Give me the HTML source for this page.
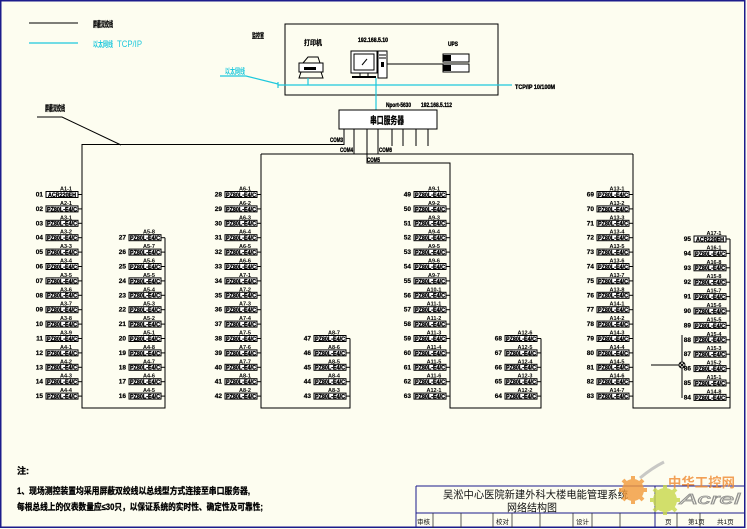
<!DOCTYPE html>
<html><head><meta charset="utf-8">
<style>
html,body{margin:0;padding:0;background:#fdfdf0;}
svg{display:block;}
.t{font-family:"Liberation Sans","Noto Sans CJK SC",sans-serif;}
.b{fill:#fff;stroke:#000;stroke-width:1;}
.m{font:bold 6.5px "Liberation Sans",sans-serif;fill:#000;stroke:#000;stroke-width:0.35;}
.n{font:bold 6.5px "Liberation Sans",sans-serif;text-anchor:end;fill:#000;stroke:#000;stroke-width:0.2;}
.l{font:bold 5.5px "Liberation Sans",sans-serif;text-anchor:middle;fill:#000;}
.k{stroke:#000;fill:none;stroke-width:1;}
.c{stroke:#1ec8dc;fill:none;stroke-width:1.2;}
.cn{font-family:"Liberation Sans","Noto Sans CJK SC",sans-serif;font-weight:bold;fill:#000;}
</style></head>
<body>
<svg width="747" height="529" viewBox="0 0 747 529" xmlns="http://www.w3.org/2000/svg">
<defs>
<g id="st"><path class="k" d="M32 0h4"/></g>
</defs>
<rect x="0" y="0" width="747" height="529" fill="#fdfdf0"/>
<rect x="0.75" y="0.75" width="744" height="526.5" fill="none" stroke="#1c1c8c" stroke-width="1.5"/>

<!-- Legend -->
<path class="k" d="M29 23H78"/>
<text class="cn" x="93" y="27" font-size="8" stroke="#000" stroke-width="0.3" textLength="20" lengthAdjust="spacingAndGlyphs">屏蔽双绞线</text>
<path class="c" d="M29 43H78"/>
<text class="t" x="93" y="47" font-size="8" fill="#1ec8dc" font-weight="bold" textLength="20" lengthAdjust="spacingAndGlyphs">以太网线</text>
<text class="t" x="117" y="47" font-size="9" fill="#1ec8dc" textLength="25" lengthAdjust="spacingAndGlyphs">TCP/IP</text>

<!-- 屏蔽双绞线 label -->
<text class="cn" x="45" y="111" font-size="8" stroke="#000" stroke-width="0.3" textLength="20" lengthAdjust="spacingAndGlyphs">屏蔽双绞线</text>
<path class="k" d="M37 117H62L121 145"/>

<!-- Ethernet label -->
<text class="t" x="225" y="74" font-size="8" fill="#1ec8dc" font-weight="bold" textLength="20" lengthAdjust="spacingAndGlyphs">以太网线</text>
<path class="c" d="M220 76H246L278 84"/>

<!-- Control room -->
<text class="cn" x="252" y="38" font-size="7" stroke="#000" stroke-width="0.25" textLength="12" lengthAdjust="spacingAndGlyphs">监控室</text>
<rect x="285" y="24" width="213" height="71" fill="none" stroke="#000" stroke-width="1"/>
<text class="cn" x="304" y="45" font-size="7" stroke="#000" stroke-width="0.25" textLength="18" lengthAdjust="spacingAndGlyphs">打印机</text>
<text class="m" x="358" y="42" textLength="30" lengthAdjust="spacingAndGlyphs">192.168.5.10</text>
<text class="m" x="448" y="46" textLength="10" lengthAdjust="spacingAndGlyphs">UPS</text>

<!-- printer -->
<path class="k" d="M303 63L308 57H318L320 63"/>
<rect x="299" y="63" width="24" height="9" fill="#fff" stroke="#000"/>
<path class="k" d="M301 72L299 78H323L321 72"/>
<rect x="304" y="67" width="12" height="3" fill="#000"/>
<!-- computer -->
<rect x="351" y="51" width="26" height="22" fill="#fff" stroke="#000"/>
<rect x="354" y="54" width="20" height="16" fill="#fff" stroke="#000"/>
<path class="k" d="M362 65L367 59"/>
<path class="k" d="M360 73V76M368 73V76"/>
<rect x="352" y="76" width="24" height="2" fill="#000"/>
<rect x="378" y="51" width="9" height="27" fill="#fff" stroke="#000"/>
<path class="k" d="M379 55H386M379 58H386"/>
<rect x="381" y="62" width="3" height="5" fill="#000"/>
<path class="k" d="M387 64H443"/>
<!-- UPS -->
<rect x="443" y="54" width="26" height="8" fill="#fff" stroke="#000"/>
<rect x="443" y="64" width="26" height="8" fill="#fff" stroke="#000"/>
<rect x="443" y="55" width="8" height="6" fill="#000"/>
<rect x="443" y="65" width="8" height="6" fill="#000"/>

<!-- cyan network -->
<path class="c" d="M278 85H512M308 78V85M376 78V110M278 82V88"/>
<text class="m" x="515" y="89" textLength="40" lengthAdjust="spacingAndGlyphs">TCP/IP 10/100M</text>

<!-- serial server -->
<text class="m" x="386" y="107" textLength="25" lengthAdjust="spacingAndGlyphs">Nport-5630</text>
<text class="m" x="421" y="107" textLength="31" lengthAdjust="spacingAndGlyphs">192.168.5.112</text>
<rect x="339" y="110" width="98" height="19" fill="#fff" stroke="#000"/>
<text class="cn" x="370" y="124" font-size="10" stroke="#000" stroke-width="0.3" textLength="34" lengthAdjust="spacingAndGlyphs">串口服务器</text>

<!-- trunk lines -->
<path class="k" d="M344 129V144.5H82V408H165V237.7"/>
<path class="k" d="M261 154H633M354 129V154M378 129V154"/>
<path class="k" d="M261 154V408H350V338.5"/>
<path class="k" d="M367 129V163H450V408H541V338.5"/>
<path class="k" d="M633 154V408H730V239"/>
<path class="k" d="M392 129V146M403 129V146M416 129V146M428 129V146"/>
<text class="m" x="330" y="142" textLength="13" lengthAdjust="spacingAndGlyphs">COM3</text>
<text class="m" x="340" y="152" textLength="13" lengthAdjust="spacingAndGlyphs">COM4</text>
<text class="m" x="379" y="152" textLength="13" lengthAdjust="spacingAndGlyphs">COM6</text>
<text class="m" x="367" y="162" textLength="13" lengthAdjust="spacingAndGlyphs">COM5</text>

<!-- Column 1 -->
<g transform="translate(46,194.5)"><text class="n" x="-3" y="2">01</text><text class="l" x="20" y="-4">A1-1</text><rect class="b" y="-3" width="32" height="6"/><text class="m" x="2" y="2.4" textLength="28" lengthAdjust="spacingAndGlyphs">ACR220EH</text><use href="#st"/></g>
<g transform="translate(46,208.9)"><text class="n" x="-3" y="2">02</text><text class="l" x="20" y="-4">A2-1</text><rect class="b" y="-3" width="32" height="6"/><text class="m" x="1" y="2.4" textLength="30" lengthAdjust="spacingAndGlyphs">PZ80L-E4/C</text><use href="#st"/></g>
<g transform="translate(46,223.3)"><text class="n" x="-3" y="2">03</text><text class="l" x="20" y="-4">A3-1</text><rect class="b" y="-3" width="32" height="6"/><text class="m" x="1" y="2.4" textLength="30" lengthAdjust="spacingAndGlyphs">PZ80L-E4/C</text><use href="#st"/></g>
<g transform="translate(46,237.7)"><text class="n" x="-3" y="2">04</text><text class="l" x="20" y="-4">A3-2</text><rect class="b" y="-3" width="32" height="6"/><text class="m" x="1" y="2.4" textLength="30" lengthAdjust="spacingAndGlyphs">PZ80L-E4/C</text><use href="#st"/></g>
<g transform="translate(46,252.1)"><text class="n" x="-3" y="2">05</text><text class="l" x="20" y="-4">A3-3</text><rect class="b" y="-3" width="32" height="6"/><text class="m" x="1" y="2.4" textLength="30" lengthAdjust="spacingAndGlyphs">PZ80L-E4/C</text><use href="#st"/></g>
<g transform="translate(46,266.5)"><text class="n" x="-3" y="2">06</text><text class="l" x="20" y="-4">A3-4</text><rect class="b" y="-3" width="32" height="6"/><text class="m" x="1" y="2.4" textLength="30" lengthAdjust="spacingAndGlyphs">PZ80L-E4/C</text><use href="#st"/></g>
<g transform="translate(46,280.9)"><text class="n" x="-3" y="2">07</text><text class="l" x="20" y="-4">A3-5</text><rect class="b" y="-3" width="32" height="6"/><text class="m" x="1" y="2.4" textLength="30" lengthAdjust="spacingAndGlyphs">PZ80L-E4/C</text><use href="#st"/></g>
<g transform="translate(46,295.3)"><text class="n" x="-3" y="2">08</text><text class="l" x="20" y="-4">A3-6</text><rect class="b" y="-3" width="32" height="6"/><text class="m" x="1" y="2.4" textLength="30" lengthAdjust="spacingAndGlyphs">PZ80L-E4/C</text><use href="#st"/></g>
<g transform="translate(46,309.7)"><text class="n" x="-3" y="2">09</text><text class="l" x="20" y="-4">A3-7</text><rect class="b" y="-3" width="32" height="6"/><text class="m" x="1" y="2.4" textLength="30" lengthAdjust="spacingAndGlyphs">PZ80L-E4/C</text><use href="#st"/></g>
<g transform="translate(46,324.1)"><text class="n" x="-3" y="2">10</text><text class="l" x="20" y="-4">A3-8</text><rect class="b" y="-3" width="32" height="6"/><text class="m" x="1" y="2.4" textLength="30" lengthAdjust="spacingAndGlyphs">PZ80L-E4/C</text><use href="#st"/></g>
<g transform="translate(46,338.5)"><text class="n" x="-3" y="2">11</text><text class="l" x="20" y="-4">A3-9</text><rect class="b" y="-3" width="32" height="6"/><text class="m" x="1" y="2.4" textLength="30" lengthAdjust="spacingAndGlyphs">PZ80L-E4/C</text><use href="#st"/></g>
<g transform="translate(46,352.9)"><text class="n" x="-3" y="2">12</text><text class="l" x="20" y="-4">A4-1</text><rect class="b" y="-3" width="32" height="6"/><text class="m" x="1" y="2.4" textLength="30" lengthAdjust="spacingAndGlyphs">PZ80L-E4/C</text><use href="#st"/></g>
<g transform="translate(46,367.3)"><text class="n" x="-3" y="2">13</text><text class="l" x="20" y="-4">A4-2</text><rect class="b" y="-3" width="32" height="6"/><text class="m" x="1" y="2.4" textLength="30" lengthAdjust="spacingAndGlyphs">PZ80L-E4/C</text><use href="#st"/></g>
<g transform="translate(46,381.7)"><text class="n" x="-3" y="2">14</text><text class="l" x="20" y="-4">A4-3</text><rect class="b" y="-3" width="32" height="6"/><text class="m" x="1" y="2.4" textLength="30" lengthAdjust="spacingAndGlyphs">PZ80L-E4/C</text><use href="#st"/></g>
<g transform="translate(46,396.1)"><text class="n" x="-3" y="2">15</text><text class="l" x="20" y="-4">A4-4</text><rect class="b" y="-3" width="32" height="6"/><text class="m" x="1" y="2.4" textLength="30" lengthAdjust="spacingAndGlyphs">PZ80L-E4/C</text><use href="#st"/></g>

<!-- Column 2 -->
<g transform="translate(129,237.7)"><text class="n" x="-3" y="2">27</text><text class="l" x="20" y="-4">A5-8</text><rect class="b" y="-3" width="32" height="6"/><text class="m" x="1" y="2.4" textLength="30" lengthAdjust="spacingAndGlyphs">PZ80L-E4/C</text><use href="#st"/></g>
<g transform="translate(129,252.1)"><text class="n" x="-3" y="2">26</text><text class="l" x="20" y="-4">A5-7</text><rect class="b" y="-3" width="32" height="6"/><text class="m" x="1" y="2.4" textLength="30" lengthAdjust="spacingAndGlyphs">PZ80L-E4/C</text><use href="#st"/></g>
<g transform="translate(129,266.5)"><text class="n" x="-3" y="2">25</text><text class="l" x="20" y="-4">A5-6</text><rect class="b" y="-3" width="32" height="6"/><text class="m" x="1" y="2.4" textLength="30" lengthAdjust="spacingAndGlyphs">PZ80L-E4/C</text><use href="#st"/></g>
<g transform="translate(129,280.9)"><text class="n" x="-3" y="2">24</text><text class="l" x="20" y="-4">A5-5</text><rect class="b" y="-3" width="32" height="6"/><text class="m" x="1" y="2.4" textLength="30" lengthAdjust="spacingAndGlyphs">PZ80L-E4/C</text><use href="#st"/></g>
<g transform="translate(129,295.3)"><text class="n" x="-3" y="2">23</text><text class="l" x="20" y="-4">A5-4</text><rect class="b" y="-3" width="32" height="6"/><text class="m" x="1" y="2.4" textLength="30" lengthAdjust="spacingAndGlyphs">PZ80L-E4/C</text><use href="#st"/></g>
<g transform="translate(129,309.7)"><text class="n" x="-3" y="2">22</text><text class="l" x="20" y="-4">A5-3</text><rect class="b" y="-3" width="32" height="6"/><text class="m" x="1" y="2.4" textLength="30" lengthAdjust="spacingAndGlyphs">PZ80L-E4/C</text><use href="#st"/></g>
<g transform="translate(129,324.1)"><text class="n" x="-3" y="2">21</text><text class="l" x="20" y="-4">A5-2</text><rect class="b" y="-3" width="32" height="6"/><text class="m" x="1" y="2.4" textLength="30" lengthAdjust="spacingAndGlyphs">PZ80L-E4/C</text><use href="#st"/></g>
<g transform="translate(129,338.5)"><text class="n" x="-3" y="2">20</text><text class="l" x="20" y="-4">A5-1</text><rect class="b" y="-3" width="32" height="6"/><text class="m" x="1" y="2.4" textLength="30" lengthAdjust="spacingAndGlyphs">PZ80L-E4/C</text><use href="#st"/></g>
<g transform="translate(129,352.9)"><text class="n" x="-3" y="2">19</text><text class="l" x="20" y="-4">A4-8</text><rect class="b" y="-3" width="32" height="6"/><text class="m" x="1" y="2.4" textLength="30" lengthAdjust="spacingAndGlyphs">PZ80L-E4/C</text><use href="#st"/></g>
<g transform="translate(129,367.3)"><text class="n" x="-3" y="2">18</text><text class="l" x="20" y="-4">A4-7</text><rect class="b" y="-3" width="32" height="6"/><text class="m" x="1" y="2.4" textLength="30" lengthAdjust="spacingAndGlyphs">PZ80L-E4/C</text><use href="#st"/></g>
<g transform="translate(129,381.7)"><text class="n" x="-3" y="2">17</text><text class="l" x="20" y="-4">A4-6</text><rect class="b" y="-3" width="32" height="6"/><text class="m" x="1" y="2.4" textLength="30" lengthAdjust="spacingAndGlyphs">PZ80L-E4/C</text><use href="#st"/></g>
<g transform="translate(129,396.1)"><text class="n" x="-3" y="2">16</text><text class="l" x="20" y="-4">A4-5</text><rect class="b" y="-3" width="32" height="6"/><text class="m" x="1" y="2.4" textLength="30" lengthAdjust="spacingAndGlyphs">PZ80L-E4/C</text><use href="#st"/></g>

<!-- Column 3 -->
<g transform="translate(225,194.5)"><text class="n" x="-3" y="2">28</text><text class="l" x="20" y="-4">A6-1</text><rect class="b" y="-3" width="32" height="6"/><text class="m" x="1" y="2.4" textLength="30" lengthAdjust="spacingAndGlyphs">PZ80L-E4/C</text><use href="#st"/></g>
<g transform="translate(225,208.9)"><text class="n" x="-3" y="2">29</text><text class="l" x="20" y="-4">A6-2</text><rect class="b" y="-3" width="32" height="6"/><text class="m" x="1" y="2.4" textLength="30" lengthAdjust="spacingAndGlyphs">PZ80L-E4/C</text><use href="#st"/></g>
<g transform="translate(225,223.3)"><text class="n" x="-3" y="2">30</text><text class="l" x="20" y="-4">A6-3</text><rect class="b" y="-3" width="32" height="6"/><text class="m" x="1" y="2.4" textLength="30" lengthAdjust="spacingAndGlyphs">PZ80L-E4/C</text><use href="#st"/></g>
<g transform="translate(225,237.7)"><text class="n" x="-3" y="2">31</text><text class="l" x="20" y="-4">A6-4</text><rect class="b" y="-3" width="32" height="6"/><text class="m" x="1" y="2.4" textLength="30" lengthAdjust="spacingAndGlyphs">PZ80L-E4/C</text><use href="#st"/></g>
<g transform="translate(225,252.1)"><text class="n" x="-3" y="2">32</text><text class="l" x="20" y="-4">A6-5</text><rect class="b" y="-3" width="32" height="6"/><text class="m" x="1" y="2.4" textLength="30" lengthAdjust="spacingAndGlyphs">PZ80L-E4/C</text><use href="#st"/></g>
<g transform="translate(225,266.5)"><text class="n" x="-3" y="2">33</text><text class="l" x="20" y="-4">A6-6</text><rect class="b" y="-3" width="32" height="6"/><text class="m" x="1" y="2.4" textLength="30" lengthAdjust="spacingAndGlyphs">PZ80L-E4/C</text><use href="#st"/></g>
<g transform="translate(225,280.9)"><text class="n" x="-3" y="2">34</text><text class="l" x="20" y="-4">A7-1</text><rect class="b" y="-3" width="32" height="6"/><text class="m" x="1" y="2.4" textLength="30" lengthAdjust="spacingAndGlyphs">PZ80L-E4/C</text><use href="#st"/></g>
<g transform="translate(225,295.3)"><text class="n" x="-3" y="2">35</text><text class="l" x="20" y="-4">A7-2</text><rect class="b" y="-3" width="32" height="6"/><text class="m" x="1" y="2.4" textLength="30" lengthAdjust="spacingAndGlyphs">PZ80L-E4/C</text><use href="#st"/></g>
<g transform="translate(225,309.7)"><text class="n" x="-3" y="2">36</text><text class="l" x="20" y="-4">A7-3</text><rect class="b" y="-3" width="32" height="6"/><text class="m" x="1" y="2.4" textLength="30" lengthAdjust="spacingAndGlyphs">PZ80L-E4/C</text><use href="#st"/></g>
<g transform="translate(225,324.1)"><text class="n" x="-3" y="2">37</text><text class="l" x="20" y="-4">A7-4</text><rect class="b" y="-3" width="32" height="6"/><text class="m" x="1" y="2.4" textLength="30" lengthAdjust="spacingAndGlyphs">PZ80L-E4/C</text><use href="#st"/></g>
<g transform="translate(225,338.5)"><text class="n" x="-3" y="2">38</text><text class="l" x="20" y="-4">A7-5</text><rect class="b" y="-3" width="32" height="6"/><text class="m" x="1" y="2.4" textLength="30" lengthAdjust="spacingAndGlyphs">PZ80L-E4/C</text><use href="#st"/></g>
<g transform="translate(225,352.9)"><text class="n" x="-3" y="2">39</text><text class="l" x="20" y="-4">A7-6</text><rect class="b" y="-3" width="32" height="6"/><text class="m" x="1" y="2.4" textLength="30" lengthAdjust="spacingAndGlyphs">PZ80L-E4/C</text><use href="#st"/></g>
<g transform="translate(225,367.3)"><text class="n" x="-3" y="2">40</text><text class="l" x="20" y="-4">A7-7</text><rect class="b" y="-3" width="32" height="6"/><text class="m" x="1" y="2.4" textLength="30" lengthAdjust="spacingAndGlyphs">PZ80L-E4/C</text><use href="#st"/></g>
<g transform="translate(225,381.7)"><text class="n" x="-3" y="2">41</text><text class="l" x="20" y="-4">A8-1</text><rect class="b" y="-3" width="32" height="6"/><text class="m" x="1" y="2.4" textLength="30" lengthAdjust="spacingAndGlyphs">PZ80L-E4/C</text><use href="#st"/></g>
<g transform="translate(225,396.1)"><text class="n" x="-3" y="2">42</text><text class="l" x="20" y="-4">A8-2</text><rect class="b" y="-3" width="32" height="6"/><text class="m" x="1" y="2.4" textLength="30" lengthAdjust="spacingAndGlyphs">PZ80L-E4/C</text><use href="#st"/></g>

<!-- Column 4 -->
<g transform="translate(314,338.5)"><text class="n" x="-3" y="2">47</text><text class="l" x="20" y="-4">A8-7</text><rect class="b" y="-3" width="32" height="6"/><text class="m" x="1" y="2.4" textLength="30" lengthAdjust="spacingAndGlyphs">PZ80L-E4/C</text><use href="#st"/></g>
<g transform="translate(314,352.9)"><text class="n" x="-3" y="2">46</text><text class="l" x="20" y="-4">A8-6</text><rect class="b" y="-3" width="32" height="6"/><text class="m" x="1" y="2.4" textLength="30" lengthAdjust="spacingAndGlyphs">PZ80L-E4/C</text><use href="#st"/></g>
<g transform="translate(314,367.3)"><text class="n" x="-3" y="2">45</text><text class="l" x="20" y="-4">A8-5</text><rect class="b" y="-3" width="32" height="6"/><text class="m" x="1" y="2.4" textLength="30" lengthAdjust="spacingAndGlyphs">PZ80L-E4/C</text><use href="#st"/></g>
<g transform="translate(314,381.7)"><text class="n" x="-3" y="2">44</text><text class="l" x="20" y="-4">A8-4</text><rect class="b" y="-3" width="32" height="6"/><text class="m" x="1" y="2.4" textLength="30" lengthAdjust="spacingAndGlyphs">PZ80L-E4/C</text><use href="#st"/></g>
<g transform="translate(314,396.1)"><text class="n" x="-3" y="2">43</text><text class="l" x="20" y="-4">A8-3</text><rect class="b" y="-3" width="32" height="6"/><text class="m" x="1" y="2.4" textLength="30" lengthAdjust="spacingAndGlyphs">PZ80L-E4/C</text><use href="#st"/></g>

<!-- Column 5 -->
<g transform="translate(414,194.5)"><text class="n" x="-3" y="2">49</text><text class="l" x="20" y="-4">A9-1</text><rect class="b" y="-3" width="32" height="6"/><text class="m" x="1" y="2.4" textLength="30" lengthAdjust="spacingAndGlyphs">PZ80L-E4/C</text><use href="#st"/></g>
<g transform="translate(414,208.9)"><text class="n" x="-3" y="2">50</text><text class="l" x="20" y="-4">A9-2</text><rect class="b" y="-3" width="32" height="6"/><text class="m" x="1" y="2.4" textLength="30" lengthAdjust="spacingAndGlyphs">PZ80L-E4/C</text><use href="#st"/></g>
<g transform="translate(414,223.3)"><text class="n" x="-3" y="2">51</text><text class="l" x="20" y="-4">A9-3</text><rect class="b" y="-3" width="32" height="6"/><text class="m" x="1" y="2.4" textLength="30" lengthAdjust="spacingAndGlyphs">PZ80L-E4/C</text><use href="#st"/></g>
<g transform="translate(414,237.7)"><text class="n" x="-3" y="2">52</text><text class="l" x="20" y="-4">A9-4</text><rect class="b" y="-3" width="32" height="6"/><text class="m" x="1" y="2.4" textLength="30" lengthAdjust="spacingAndGlyphs">PZ80L-E4/C</text><use href="#st"/></g>
<g transform="translate(414,252.1)"><text class="n" x="-3" y="2">53</text><text class="l" x="20" y="-4">A9-5</text><rect class="b" y="-3" width="32" height="6"/><text class="m" x="1" y="2.4" textLength="30" lengthAdjust="spacingAndGlyphs">PZ80L-E4/C</text><use href="#st"/></g>
<g transform="translate(414,266.5)"><text class="n" x="-3" y="2">54</text><text class="l" x="20" y="-4">A9-6</text><rect class="b" y="-3" width="32" height="6"/><text class="m" x="1" y="2.4" textLength="30" lengthAdjust="spacingAndGlyphs">PZ80L-E4/C</text><use href="#st"/></g>
<g transform="translate(414,280.9)"><text class="n" x="-3" y="2">55</text><text class="l" x="20" y="-4">A9-7</text><rect class="b" y="-3" width="32" height="6"/><text class="m" x="1" y="2.4" textLength="30" lengthAdjust="spacingAndGlyphs">PZ80L-E4/C</text><use href="#st"/></g>
<g transform="translate(414,295.3)"><text class="n" x="-3" y="2">56</text><text class="l" x="20" y="-4">A10-1</text><rect class="b" y="-3" width="32" height="6"/><text class="m" x="1" y="2.4" textLength="30" lengthAdjust="spacingAndGlyphs">PZ80L-E4/C</text><use href="#st"/></g>
<g transform="translate(414,309.7)"><text class="n" x="-3" y="2">57</text><text class="l" x="20" y="-4">A11-1</text><rect class="b" y="-3" width="32" height="6"/><text class="m" x="1" y="2.4" textLength="30" lengthAdjust="spacingAndGlyphs">PZ80L-E4/C</text><use href="#st"/></g>
<g transform="translate(414,324.1)"><text class="n" x="-3" y="2">58</text><text class="l" x="20" y="-4">A11-2</text><rect class="b" y="-3" width="32" height="6"/><text class="m" x="1" y="2.4" textLength="30" lengthAdjust="spacingAndGlyphs">PZ80L-E4/C</text><use href="#st"/></g>
<g transform="translate(414,338.5)"><text class="n" x="-3" y="2">59</text><text class="l" x="20" y="-4">A11-3</text><rect class="b" y="-3" width="32" height="6"/><text class="m" x="1" y="2.4" textLength="30" lengthAdjust="spacingAndGlyphs">PZ80L-E4/C</text><use href="#st"/></g>
<g transform="translate(414,352.9)"><text class="n" x="-3" y="2">60</text><text class="l" x="20" y="-4">A11-4</text><rect class="b" y="-3" width="32" height="6"/><text class="m" x="1" y="2.4" textLength="30" lengthAdjust="spacingAndGlyphs">PZ80L-E4/C</text><use href="#st"/></g>
<g transform="translate(414,367.3)"><text class="n" x="-3" y="2">61</text><text class="l" x="20" y="-4">A11-5</text><rect class="b" y="-3" width="32" height="6"/><text class="m" x="1" y="2.4" textLength="30" lengthAdjust="spacingAndGlyphs">PZ80L-E4/C</text><use href="#st"/></g>
<g transform="translate(414,381.7)"><text class="n" x="-3" y="2">62</text><text class="l" x="20" y="-4">A11-6</text><rect class="b" y="-3" width="32" height="6"/><text class="m" x="1" y="2.4" textLength="30" lengthAdjust="spacingAndGlyphs">PZ80L-E4/C</text><use href="#st"/></g>
<g transform="translate(414,396.1)"><text class="n" x="-3" y="2">63</text><text class="l" x="20" y="-4">A12-1</text><rect class="b" y="-3" width="32" height="6"/><text class="m" x="1" y="2.4" textLength="30" lengthAdjust="spacingAndGlyphs">PZ80L-E4/C</text><use href="#st"/></g>

<!-- Column 6 -->
<g transform="translate(505,338.5)"><text class="n" x="-3" y="2">68</text><text class="l" x="20" y="-4">A12-6</text><rect class="b" y="-3" width="32" height="6"/><text class="m" x="1" y="2.4" textLength="30" lengthAdjust="spacingAndGlyphs">PZ80L-E4/C</text><use href="#st"/></g>
<g transform="translate(505,352.9)"><text class="n" x="-3" y="2">67</text><text class="l" x="20" y="-4">A12-5</text><rect class="b" y="-3" width="32" height="6"/><text class="m" x="1" y="2.4" textLength="30" lengthAdjust="spacingAndGlyphs">PZ80L-E4/C</text><use href="#st"/></g>
<g transform="translate(505,367.3)"><text class="n" x="-3" y="2">66</text><text class="l" x="20" y="-4">A12-4</text><rect class="b" y="-3" width="32" height="6"/><text class="m" x="1" y="2.4" textLength="30" lengthAdjust="spacingAndGlyphs">PZ80L-E4/C</text><use href="#st"/></g>
<g transform="translate(505,381.7)"><text class="n" x="-3" y="2">65</text><text class="l" x="20" y="-4">A12-3</text><rect class="b" y="-3" width="32" height="6"/><text class="m" x="1" y="2.4" textLength="30" lengthAdjust="spacingAndGlyphs">PZ80L-E4/C</text><use href="#st"/></g>
<g transform="translate(505,396.1)"><text class="n" x="-3" y="2">64</text><text class="l" x="20" y="-4">A12-2</text><rect class="b" y="-3" width="32" height="6"/><text class="m" x="1" y="2.4" textLength="30" lengthAdjust="spacingAndGlyphs">PZ80L-E4/C</text><use href="#st"/></g>

<!-- Column 7 -->
<g transform="translate(597,194.5)"><text class="n" x="-3" y="2">69</text><text class="l" x="20" y="-4">A13-1</text><rect class="b" y="-3" width="32" height="6"/><text class="m" x="1" y="2.4" textLength="30" lengthAdjust="spacingAndGlyphs">PZ80L-E4/C</text><use href="#st"/></g>
<g transform="translate(597,208.9)"><text class="n" x="-3" y="2">70</text><text class="l" x="20" y="-4">A13-2</text><rect class="b" y="-3" width="32" height="6"/><text class="m" x="1" y="2.4" textLength="30" lengthAdjust="spacingAndGlyphs">PZ80L-E4/C</text><use href="#st"/></g>
<g transform="translate(597,223.3)"><text class="n" x="-3" y="2">71</text><text class="l" x="20" y="-4">A13-3</text><rect class="b" y="-3" width="32" height="6"/><text class="m" x="1" y="2.4" textLength="30" lengthAdjust="spacingAndGlyphs">PZ80L-E4/C</text><use href="#st"/></g>
<g transform="translate(597,237.7)"><text class="n" x="-3" y="2">72</text><text class="l" x="20" y="-4">A13-4</text><rect class="b" y="-3" width="32" height="6"/><text class="m" x="1" y="2.4" textLength="30" lengthAdjust="spacingAndGlyphs">PZ80L-E4/C</text><use href="#st"/></g>
<g transform="translate(597,252.1)"><text class="n" x="-3" y="2">73</text><text class="l" x="20" y="-4">A13-5</text><rect class="b" y="-3" width="32" height="6"/><text class="m" x="1" y="2.4" textLength="30" lengthAdjust="spacingAndGlyphs">PZ80L-E4/C</text><use href="#st"/></g>
<g transform="translate(597,266.5)"><text class="n" x="-3" y="2">74</text><text class="l" x="20" y="-4">A13-6</text><rect class="b" y="-3" width="32" height="6"/><text class="m" x="1" y="2.4" textLength="30" lengthAdjust="spacingAndGlyphs">PZ80L-E4/C</text><use href="#st"/></g>
<g transform="translate(597,280.9)"><text class="n" x="-3" y="2">75</text><text class="l" x="20" y="-4">A13-7</text><rect class="b" y="-3" width="32" height="6"/><text class="m" x="1" y="2.4" textLength="30" lengthAdjust="spacingAndGlyphs">PZ80L-E4/C</text><use href="#st"/></g>
<g transform="translate(597,295.3)"><text class="n" x="-3" y="2">76</text><text class="l" x="20" y="-4">A13-8</text><rect class="b" y="-3" width="32" height="6"/><text class="m" x="1" y="2.4" textLength="30" lengthAdjust="spacingAndGlyphs">PZ80L-E4/C</text><use href="#st"/></g>
<g transform="translate(597,309.7)"><text class="n" x="-3" y="2">77</text><text class="l" x="20" y="-4">A14-1</text><rect class="b" y="-3" width="32" height="6"/><text class="m" x="1" y="2.4" textLength="30" lengthAdjust="spacingAndGlyphs">PZ80L-E4/C</text><use href="#st"/></g>
<g transform="translate(597,324.1)"><text class="n" x="-3" y="2">78</text><text class="l" x="20" y="-4">A14-2</text><rect class="b" y="-3" width="32" height="6"/><text class="m" x="1" y="2.4" textLength="30" lengthAdjust="spacingAndGlyphs">PZ80L-E4/C</text><use href="#st"/></g>
<g transform="translate(597,338.5)"><text class="n" x="-3" y="2">79</text><text class="l" x="20" y="-4">A14-3</text><rect class="b" y="-3" width="32" height="6"/><text class="m" x="1" y="2.4" textLength="30" lengthAdjust="spacingAndGlyphs">PZ80L-E4/C</text><use href="#st"/></g>
<g transform="translate(597,352.9)"><text class="n" x="-3" y="2">80</text><text class="l" x="20" y="-4">A14-4</text><rect class="b" y="-3" width="32" height="6"/><text class="m" x="1" y="2.4" textLength="30" lengthAdjust="spacingAndGlyphs">PZ80L-E4/C</text><use href="#st"/></g>
<g transform="translate(597,367.3)"><text class="n" x="-3" y="2">81</text><text class="l" x="20" y="-4">A14-5</text><rect class="b" y="-3" width="32" height="6"/><text class="m" x="1" y="2.4" textLength="30" lengthAdjust="spacingAndGlyphs">PZ80L-E4/C</text><use href="#st"/></g>
<g transform="translate(597,381.7)"><text class="n" x="-3" y="2">82</text><text class="l" x="20" y="-4">A14-6</text><rect class="b" y="-3" width="32" height="6"/><text class="m" x="1" y="2.4" textLength="30" lengthAdjust="spacingAndGlyphs">PZ80L-E4/C</text><use href="#st"/></g>
<g transform="translate(597,396.1)"><text class="n" x="-3" y="2">83</text><text class="l" x="20" y="-4">A14-7</text><rect class="b" y="-3" width="32" height="6"/><text class="m" x="1" y="2.4" textLength="30" lengthAdjust="spacingAndGlyphs">PZ80L-E4/C</text><use href="#st"/></g>

<!-- Column 8 -->
<g transform="translate(694,239)"><text class="n" x="-3" y="2">95</text><text class="l" x="20" y="-4">A17-1</text><rect class="b" y="-3" width="32" height="6"/><text class="m" x="2" y="2.4" textLength="28" lengthAdjust="spacingAndGlyphs">ACR220EH</text><use href="#st"/></g>
<g transform="translate(694,253.4)"><text class="n" x="-3" y="2">94</text><text class="l" x="20" y="-4">A16-1</text><rect class="b" y="-3" width="32" height="6"/><text class="m" x="1" y="2.4" textLength="30" lengthAdjust="spacingAndGlyphs">PZ80L-E4/C</text><use href="#st"/></g>
<g transform="translate(694,267.8)"><text class="n" x="-3" y="2">93</text><text class="l" x="20" y="-4">A16-8</text><rect class="b" y="-3" width="32" height="6"/><text class="m" x="1" y="2.4" textLength="30" lengthAdjust="spacingAndGlyphs">PZ80L-E4/C</text><use href="#st"/></g>
<g transform="translate(694,282.2)"><text class="n" x="-3" y="2">92</text><text class="l" x="20" y="-4">A15-8</text><rect class="b" y="-3" width="32" height="6"/><text class="m" x="1" y="2.4" textLength="30" lengthAdjust="spacingAndGlyphs">PZ80L-E4/C</text><use href="#st"/></g>
<g transform="translate(694,296.6)"><text class="n" x="-3" y="2">91</text><text class="l" x="20" y="-4">A15-7</text><rect class="b" y="-3" width="32" height="6"/><text class="m" x="1" y="2.4" textLength="30" lengthAdjust="spacingAndGlyphs">PZ80L-E4/C</text><use href="#st"/></g>
<g transform="translate(694,311)"><text class="n" x="-3" y="2">90</text><text class="l" x="20" y="-4">A15-6</text><rect class="b" y="-3" width="32" height="6"/><text class="m" x="1" y="2.4" textLength="30" lengthAdjust="spacingAndGlyphs">PZ80L-E4/C</text><use href="#st"/></g>
<g transform="translate(694,325.4)"><text class="n" x="-3" y="2">89</text><text class="l" x="20" y="-4">A15-5</text><rect class="b" y="-3" width="32" height="6"/><text class="m" x="1" y="2.4" textLength="30" lengthAdjust="spacingAndGlyphs">PZ80L-E4/C</text><use href="#st"/></g>
<g transform="translate(694,339.8)"><text class="n" x="-3" y="2">88</text><text class="l" x="20" y="-4">A15-4</text><rect class="b" y="-3" width="32" height="6"/><text class="m" x="1" y="2.4" textLength="30" lengthAdjust="spacingAndGlyphs">PZ80L-E4/C</text><use href="#st"/></g>
<g transform="translate(694,354.2)"><text class="n" x="-3" y="2">87</text><text class="l" x="20" y="-4">A15-3</text><rect class="b" y="-3" width="32" height="6"/><text class="m" x="1" y="2.4" textLength="30" lengthAdjust="spacingAndGlyphs">PZ80L-E4/C</text><use href="#st"/></g>
<g transform="translate(694,368.6)"><text class="n" x="-3" y="2">86</text><text class="l" x="20" y="-4">A15-2</text><rect class="b" y="-3" width="32" height="6"/><text class="m" x="1" y="2.4" textLength="30" lengthAdjust="spacingAndGlyphs">PZ80L-E4/C</text><use href="#st"/></g>
<g transform="translate(694,383)"><text class="n" x="-3" y="2">85</text><text class="l" x="20" y="-4">A15-1</text><rect class="b" y="-3" width="32" height="6"/><text class="m" x="1" y="2.4" textLength="30" lengthAdjust="spacingAndGlyphs">PZ80L-E4/C</text><use href="#st"/></g>
<g transform="translate(694,397.4)"><text class="n" x="-3" y="2">84</text><text class="l" x="20" y="-4">A14-8</text><rect class="b" y="-3" width="32" height="6"/><text class="m" x="1" y="2.4" textLength="30" lengthAdjust="spacingAndGlyphs">PZ80L-E4/C</text><use href="#st"/></g>

<!-- terminator symbol -->
<path class="k" d="M651 365H679M682 335V362M682 368V398"/>
<circle cx="682" cy="365" r="3" fill="none" stroke="#000"/>
<path class="k" d="M680 363L684 367M684 363L680 367" stroke-width="0.7"/>

<!-- Notes -->
<text class="cn" x="17" y="474" font-size="9" stroke="#000" stroke-width="0.3">注:</text>
<text class="cn" x="17" y="494" font-size="9" stroke="#000" stroke-width="0.3" textLength="233" lengthAdjust="spacingAndGlyphs">1、现场测控装置均采用屏蔽双绞线以总线型方式连接至串口服务器,</text>
<text class="cn" x="17" y="510" font-size="9" stroke="#000" stroke-width="0.3" textLength="246" lengthAdjust="spacingAndGlyphs">每根总线上的仪表数量应≤30只，以保证系统的实时性、确定性及可靠性;</text>

<!-- Title block -->
<path d="M416 486H744M416 486V528M416 513H744M655 486V528" stroke="#1c1c8c" stroke-width="1" fill="none"/>
<path d="M433 513V528M461 513V528M493 513V528M512 513V528M540 513V528M573 513V528M592 513V528M620 513V528M677 513V528M700 513V528" stroke="#333" stroke-width="0.8" fill="none"/>
<text class="t" x="443" y="498" font-size="10.5" fill="#111" textLength="185" lengthAdjust="spacingAndGlyphs">吴淞中心医院新建外科大楼电能管理系统</text>
<text class="t" x="507" y="511" font-size="10.5" fill="#111" textLength="50" lengthAdjust="spacingAndGlyphs">网络结构图</text>
<text class="t" x="417" y="524" font-size="6.5" fill="#111">审核</text>
<text class="t" x="496" y="524" font-size="6.5" fill="#111">校对</text>
<text class="t" x="576" y="524" font-size="6.5" fill="#111">设计</text>
<text class="t" x="665" y="524" font-size="6.5" fill="#111">页</text>
<text class="t" x="688" y="524" font-size="6.5" fill="#111">第1页</text>
<text class="t" x="717" y="524" font-size="6.5" fill="#111">共1页</text>

<!-- watermark -->
<g opacity="0.8">
<circle cx="633" cy="490" r="11" fill="#f39a3a"/>
<circle cx="633" cy="490" r="4" fill="#fdfdf0"/>
<path d="M633 476V504M619 490H647M623 480L643 500M643 480L623 500" stroke="#f39a3a" stroke-width="4"/>
<circle cx="665" cy="500" r="12" fill="#c8d84a"/>
<circle cx="665" cy="500" r="4" fill="#fdfdf0"/>
<path d="M665 485V515M650 500H680M654 489L676 511M676 489L654 511" stroke="#c8d84a" stroke-width="4"/>
<path d="M640 478Q652 468 664 462" stroke="#bbb" stroke-width="3" fill="none"/>
<text class="t" x="668" y="487" font-size="13" font-weight="bold" fill="#f08a30" textLength="67" lengthAdjust="spacingAndGlyphs">中华工控网</text>
<text x="680" y="504" font-family="Liberation Sans,sans-serif" font-size="15" font-style="italic" fill="none" stroke="#777" stroke-width="0.8" textLength="60" lengthAdjust="spacingAndGlyphs">Acrel</text>
</g>
</svg>
</body></html>
